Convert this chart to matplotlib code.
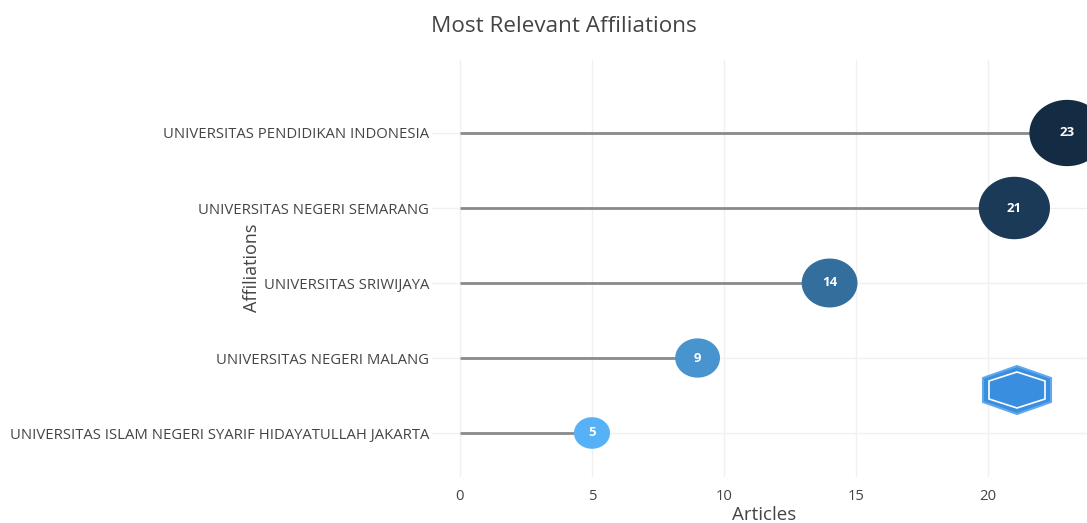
import numpy as np
import matplotlib
matplotlib.use("Agg")
import matplotlib.pyplot as plt
from matplotlib.path import Path
from matplotlib.patches import Polygon
from matplotlib.colors import LinearSegmentedColormap, Normalize

plt.rcParams['font.family'] = ['Open Sans', 'DejaVu Sans']

affiliations = [
    "UNIVERSITAS ISLAM NEGERI SYARIF HIDAYATULLAH JAKARTA",
    "UNIVERSITAS NEGERI MALANG",
    "UNIVERSITAS SRIWIJAYA",
    "UNIVERSITAS NEGERI SEMARANG",
    "UNIVERSITAS PENDIDIKAN INDONESIA",
]
articles = [5, 9, 14, 21, 23]
x_ticks = [0, 5, 10, 15, 20]


def ellipse_marker(stretch=1.14):
    """Slightly wide ellipse, the source image is stretched horizontally."""
    t = np.linspace(0, 2 * np.pi, 80)
    verts = np.column_stack([stretch * np.cos(t), np.sin(t)])
    return Path(verts, closed=True)


def main(file_name="out.png"):
    fig = plt.figure(figsize=(10.87, 5.23), dpi=100)
    ax = fig.add_axes([432 / 1087, 1 - 477 / 523, 655 / 1087, 417 / 523])

    y = np.arange(len(affiliations))
    vals = np.array(articles)

    cmap = LinearSegmentedColormap.from_list("gg", ["#56B1F7", "#132B43"])
    norm = Normalize(vmin=min(articles), vmax=max(articles))

    ax.hlines(y, 0, vals, color="#8a8a8a", linewidth=2, zorder=2)

    # marker width in px grows linearly with value, convert to points
    width_px = 25 + 2.2 * vals
    sizes = (width_px * 72 / 100) ** 2
    ax.scatter(vals, y, s=sizes, c=cmap(norm(vals)), marker=ellipse_marker(),
               linewidths=0, zorder=3, clip_on=True)

    for v, yy in zip(vals, y):
        ax.text(v, yy, str(v), color="white", fontsize=9.5, fontweight="bold",
                ha="center", va="center", zorder=4)

    ax.set_xlim(-28 / 26.4, 627 / 26.4)
    ax.set_ylim(-44 / 75, 4 + 73 / 75)
    ax.set_xticks(x_ticks)
    ax.set_yticks(y)
    ax.set_yticklabels(affiliations)
    ax.tick_params(axis="both", length=0, colors="#444444", labelsize=10.7)
    ax.tick_params(axis="y", pad=2)
    ax.tick_params(axis="x", pad=9)
    for s in ax.spines.values():
        s.set_visible(False)
    ax.grid(True, color="#f0f0f0", linewidth=1)
    ax.set_axisbelow(True)

    fig.text(564 / 1087, 1 - 26 / 523, "Most Relevant Affiliations",
             ha="center", va="center", fontsize=16.2, color="#444444")
    fig.text(764 / 1087, 1 - 515 / 523, "Articles",
             ha="center", va="center", fontsize=13.5, color="#444444")
    fig.text(252 / 1087, 1 - 268 / 523, "Affiliations", rotation=90,
             ha="center", va="center", fontsize=13, color="#444444")

    # small hexagon logo
    cx, cy, hw, hh = 1017, 390, 34, 24
    pts = [(cx, cy - hh), (cx + hw, cy - hh / 2), (cx + hw, cy + hh / 2),
           (cx, cy + hh), (cx - hw, cy + hh / 2), (cx - hw, cy - hh / 2)]
    pts = [(px / 1087, 1 - py / 523) for px, py in pts]
    fig.patches.append(Polygon(pts, closed=True, transform=fig.transFigure,
                               facecolor="#3a8ee0", edgecolor="#5fa8ee",
                               linewidth=1.5, zorder=5))
    inner = [(cx, cy - hh + 6), (cx + hw - 6, cy - hh / 2 + 3),
             (cx + hw - 6, cy + hh / 2 - 3), (cx, cy + hh - 6),
             (cx - hw + 6, cy + hh / 2 - 3), (cx - hw + 6, cy - hh / 2 + 3)]
    inner = [(px / 1087, 1 - py / 523) for px, py in inner]
    fig.patches.append(Polygon(inner, closed=True, transform=fig.transFigure,
                               facecolor="none", edgecolor="white",
                               linewidth=1.2, zorder=6))

    fig.savefig(file_name, dpi=100)


if __name__ == "__main__":
    main()
